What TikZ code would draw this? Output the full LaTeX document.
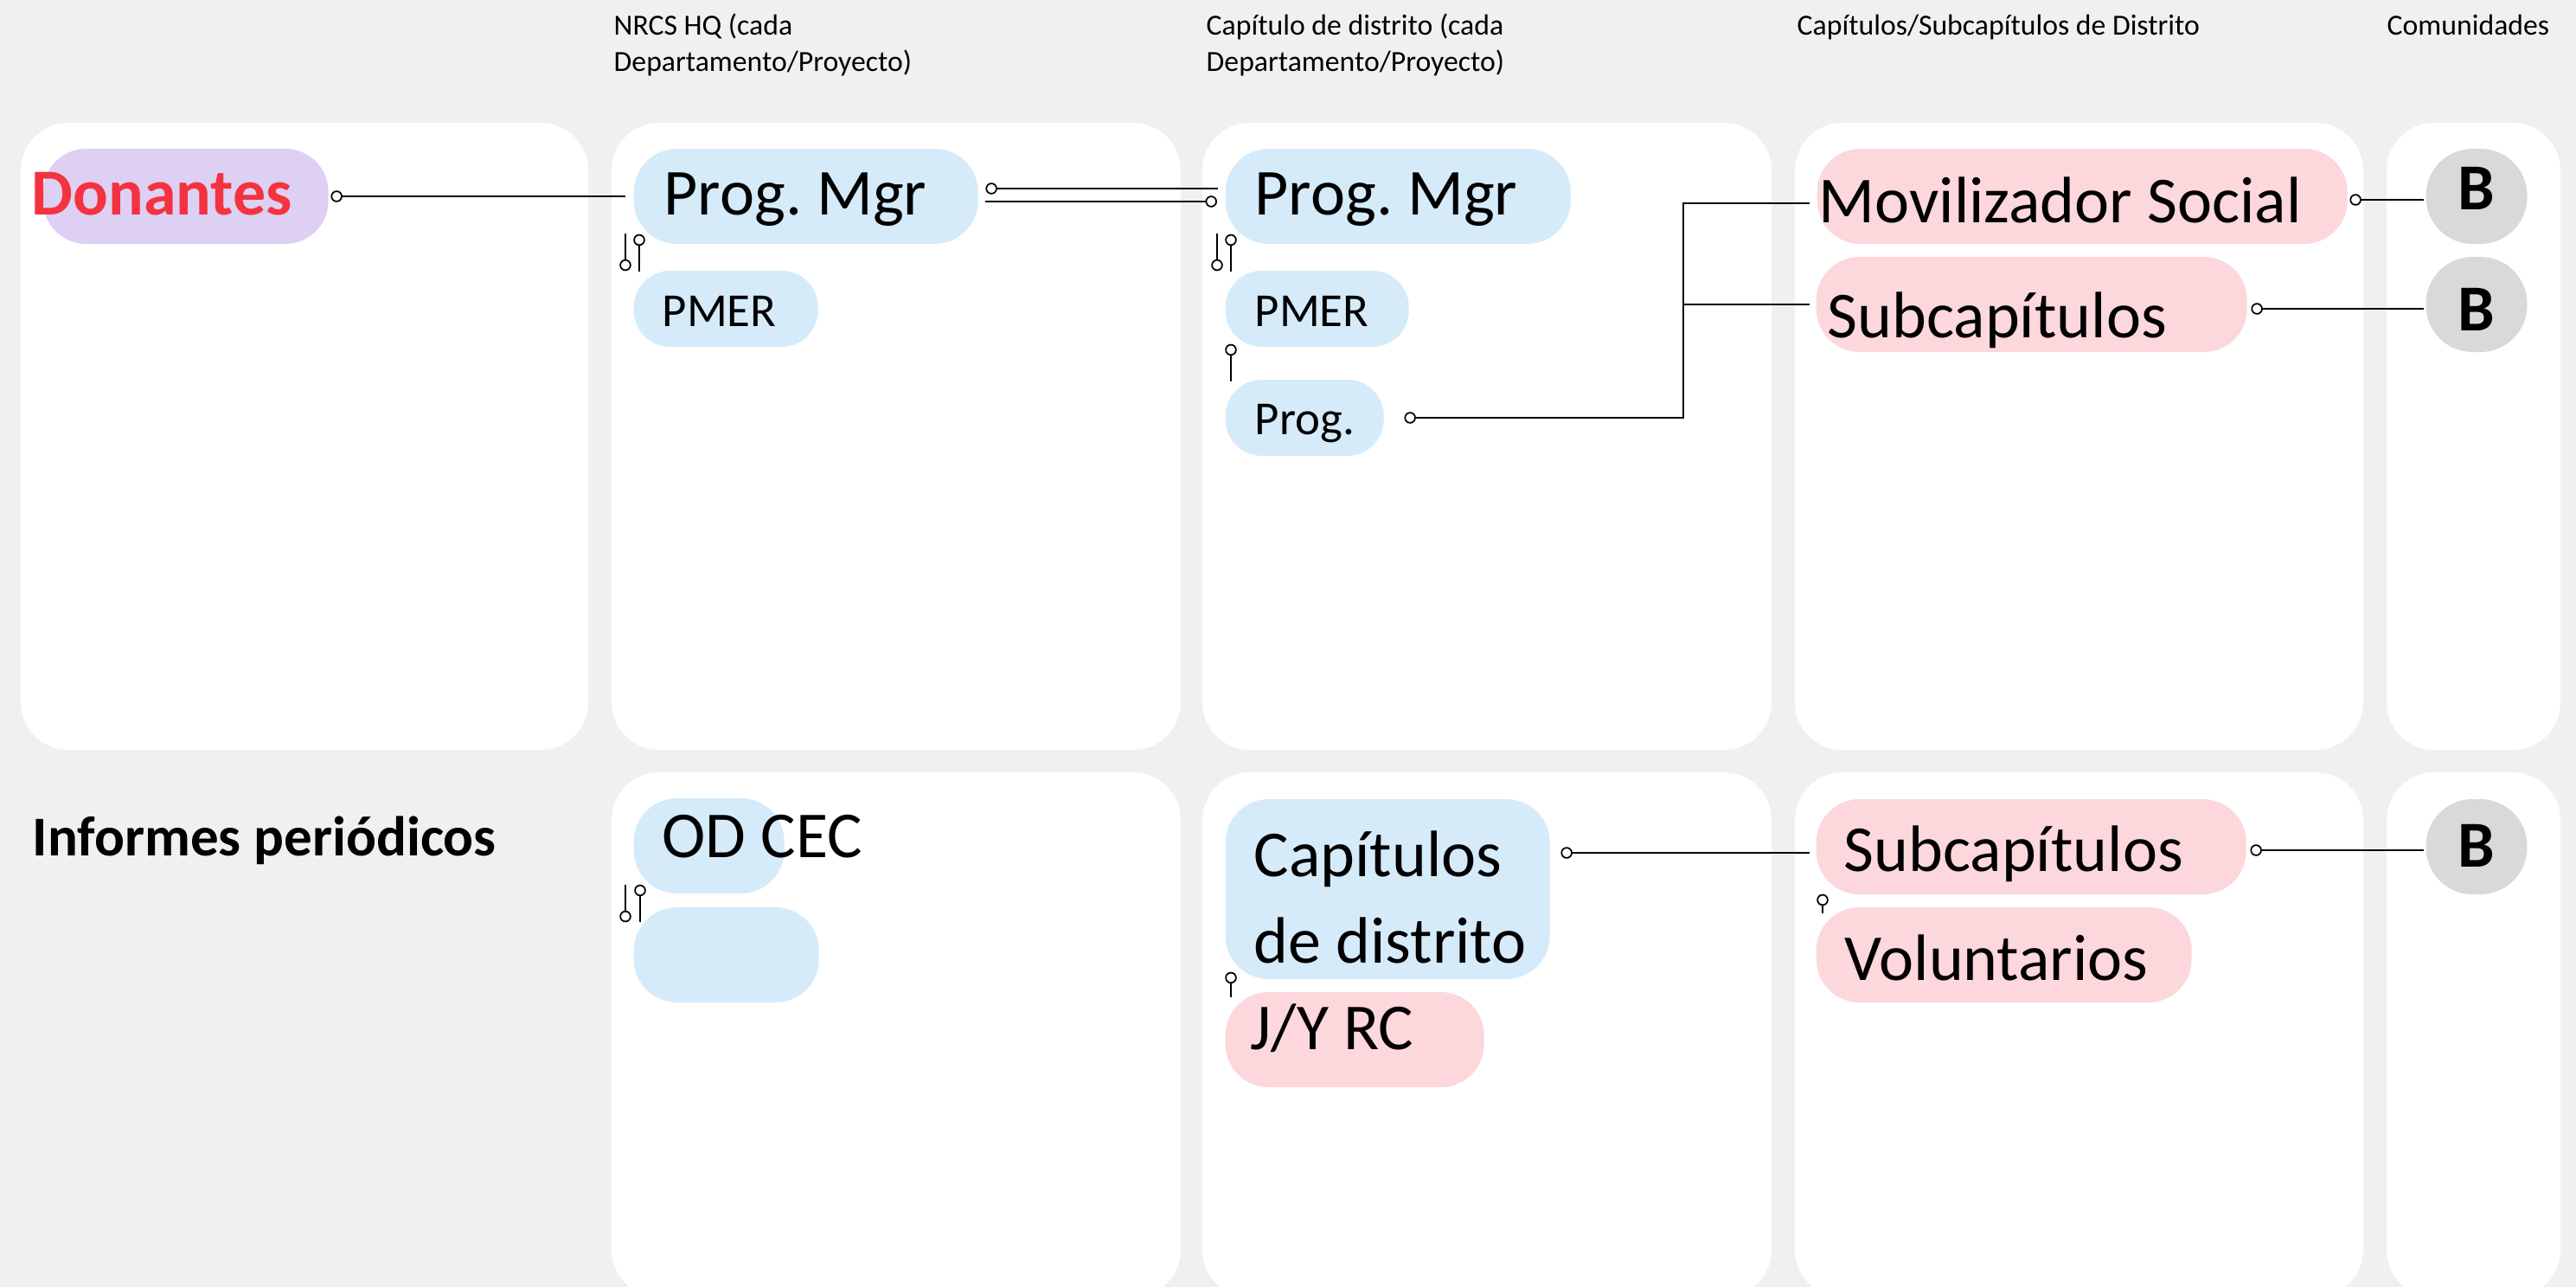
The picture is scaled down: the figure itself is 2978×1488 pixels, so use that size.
\documentclass[tikz,border=0pt]{standalone}
\usepackage{fontspec}
\setmainfont{Carlito}
\usepackage{tikz}
\usetikzlibrary{
    arrows.meta,
    positioning
}
\usepackage{xcolor}
\definecolor{bggray}{RGB}{240,240,240}
\definecolor{hqblue}{RGB}{213,235,250}
\definecolor{chappink}{RGB}{252,215,220}
\definecolor{donorlilac}{RGB}{221,208,243}
\definecolor{donorred}{RGB}{245,50,63}
\definecolor{commgray}{RGB}{217,217,217}

\newcommand{\bigtxt}{\fontsize{21.6}{28.5}\selectfont}
\newcommand{\smalltxt}{\fontsize{15.6}{19}\selectfont}
\newcommand{\hdrtxt}{\fontsize{9.6}{11.7}\selectfont}
\frenchspacing

\tikzset{
    panel/.style={fill=white, rounded corners=5.5mm},
    pill/.style={anchor=west, rounded corners=5mm, minimum height=11mm,
        inner ysep=0pt, align=flush left, font=\bigtxt},
    smallpill/.style={pill, rounded corners=4.2mm, minimum height=8.8mm, font=\smalltxt},
    txtlift/.style={text height=#1, text depth=0pt},
    hq/.style={fill=hqblue},
    chap/.style={fill=chappink},
    comm/.style={fill=commgray, rounded corners=5.4mm, minimum width=11.7mm,
        minimum height=11mm, inner sep=0pt, font=\bigtxt\bfseries},
    hdr/.style={anchor=base west, inner sep=0pt, align=flush left, font=\hdrtxt},
    link/.style={line width=0.6pt, black},
    dotfrom/.style={{Circle[open, length=1.35mm, width=1.35mm, line width=0.5pt]}-},
    dotto/.style={-{Circle[open, length=1.35mm, width=1.35mm, line width=0.5pt]}}
}

\begin{document}
\begin{tikzpicture}[x=0.1mm, y=-0.1mm]

% === Background and panels ===
\fill[bggray] (0,0) rectangle (2978,1488);
\useasboundingbox (0,0) rectangle (2978,1488);
\begin{scope}
    \clip (0,0) rectangle (2978,1488);
    \fill[panel] (24,142) rectangle (680,867);
    \foreach \xa/\xb in {707/1365, 1390/2048, 2075/2732, 2759/2960} {
        \fill[panel] (\xa,142) rectangle (\xb,867);
        \fill[panel] (\xa,893) rectangle (\xb,1500);
    }
\end{scope}

% === Column headers ===
\node[hdr] (hqhead) at (709,82) {NRCS HQ (cada\\Departamento/Proyecto)};
\node[hdr] (disthead) at (1394,82) {Capítulo de distrito (cada\\Departamento/Proyecto)};
\node[hdr] (subhead) at (2077,41) {Capítulos/Subcapítulos de Distrito};
\node[hdr] (commhead) at (2759,41) {Comunidades};

% === Row 1 ===
\node[pill, fill=donorlilac, minimum width=33mm, inner xsep=0pt] (donors) at (49,227) {};
\node[anchor=base west, inner sep=0pt, font=\bigtxt\bfseries, text=donorred] (donorslbl) at (36,248) {Donantes};

\node[pill, hq, inner xsep=3.5mm, text width=32.8mm, txtlift=4.2mm] (pm1) at (732,227) {Prog. Mgr};
\node[smallpill, hq, inner xsep=3.3mm, text width=14.7mm, txtlift=4mm] (pmer1) at (732,357) {PMER};

\node[pill, hq, inner xsep=3.4mm, text width=33.1mm, txtlift=4.2mm] (pm2) at (1416,227) {Prog. Mgr};
\node[smallpill, hq, inner xsep=3.4mm, text width=14.4mm, txtlift=4mm] (pmer2) at (1416,357) {PMER};
\node[smallpill, hq, inner xsep=3.4mm, text width=11.5mm, txtlift=3.8mm] (prog2) at (1416,483) {\mbox{Prog.}};

\node[pill, chap, inner xsep=0.2mm, text width=60.9mm, txtlift=6mm] (mob) at (2100,227) {Movilizador Social};
\node[pill, chap, inner xsep=1.3mm, text width=47.2mm, txtlift=7.6mm] (sub1) at (2099,352) {Subcapítulos};

\node[comm, txtlift=3mm] (b1) at (2863,227) {B};
\node[comm, txtlift=6mm] (b2) at (2863,352) {B};

% === Row 2 ===
\node[anchor=base west, inner sep=0pt, font=\fontsize{18.5}{22}\selectfont\bfseries] (reports) at (37,989) {Informes periódicos};

\node[pill, hq, inner xsep=3.3mm, text width=10.8mm, txtlift=2.6mm] (odcec) at (732,978) {\mbox{OD CEC}};
\node[pill, hq, inner xsep=0pt, minimum width=21.4mm] (blank) at (732,1104) {};

\node[pill, hq, inner xsep=3.3mm, text width=30.9mm, minimum height=20.8mm,
    text height=5mm, text depth=8mm] (cap2) at (1416,1028) {Capítulos\\\mbox{de distrito}};
\node[pill, chap, inner xsep=2.9mm, text width=24.1mm, txtlift=2.2mm] (jyrc) at (1416,1202) {J/Y RC};

\node[pill, chap, inner xsep=3.2mm, text width=43.3mm, txtlift=5.6mm] (sub2) at (2099,979) {Subcapítulos};
\node[pill, chap, inner xsep=3.3mm, text width=36.8mm, txtlift=5.8mm] (vol) at (2099,1104) {Voluntarios};

\node[comm, txtlift=4.6mm] (b3) at (2863,979) {B};

% === Connectors ===
\draw[link, dotfrom, shorten >=0.9mm] ([xshift=0.2mm]donors.east) -- (pm1.west);

\draw[link, dotfrom] ([xshift=0.8mm, yshift=0.9mm]pm1.east) -- ([xshift=-0.8mm, yshift=0.9mm]pm2.west);
\draw[link, dotto] ([xshift=0.8mm, yshift=-0.6mm]pm1.east) -- ([xshift=-0.9mm, yshift=-0.6mm]pm2.west);

\draw[link, dotto] ([xshift=-0.9mm, yshift=1.3mm]pm1.south west) -- ([xshift=-0.9mm, yshift=-0.1mm]pmer1.north west);
\draw[link, dotfrom] ([xshift=0.7mm, yshift=1.2mm]pm1.south west) -- ([xshift=0.7mm, yshift=-0.2mm]pmer1.north west);

\draw[link, dotto] ([xshift=-0.9mm, yshift=1.3mm]pm2.south west) -- ([xshift=-0.9mm, yshift=-0.1mm]pmer2.north west);
\draw[link, dotfrom] ([xshift=0.7mm, yshift=1.2mm]pm2.south west) -- ([xshift=0.7mm, yshift=-0.2mm]pmer2.north west);
\draw[link, dotfrom] ([xshift=0.7mm, yshift=0.4mm]pmer2.south west) -- ([xshift=0.7mm, yshift=-0.3mm]prog2.north west);

\coordinate (bus) at (1946,483);
\draw[link, dotfrom] ([xshift=2.3mm]prog2.east) -- (bus) |- ([xshift=-0.8mm, yshift=-0.8mm]mob.west);
\draw[link] (bus |- sub1.west) -- ([xshift=-0.7mm]sub1.west);

\draw[link, dotfrom] ([xshift=0.2mm, yshift=-0.4mm]mob.east) -- ([xshift=-0.2mm, yshift=-0.4mm]b1.west);
\draw[link, dotfrom] ([xshift=0.4mm, yshift=-0.5mm]sub1.east) -- ([xshift=-0.2mm, yshift=-0.5mm]b2.west);

\draw[link, dotto] ([xshift=-0.9mm, yshift=1.1mm]odcec.south west) -- ([xshift=-0.9mm, yshift=-1.8mm]blank.north west);
\draw[link, dotfrom] ([xshift=0.8mm, yshift=1.1mm]odcec.south west) -- ([xshift=0.8mm, yshift=-1.8mm]blank.north west);

\draw[link, dotfrom] ([xshift=1.2mm, yshift=-0.7mm]cap2.east |- sub2.west) -- ([xshift=-0.7mm, yshift=-0.7mm]sub2.west);
\draw[link, dotfrom] ([xshift=0.7mm, yshift=0.9mm]cap2.south west) -- ([xshift=0.7mm, yshift=-0.7mm]jyrc.north west);

\draw[link, dotfrom] ([xshift=0.4mm, yshift=-0.4mm]sub2.east) -- ([xshift=-0.2mm, yshift=-0.4mm]b3.west);
\draw[link, dotfrom] ([xshift=0.8mm, yshift=0.1mm]sub2.south west) -- ([xshift=0.8mm, yshift=-0.8mm]vol.north west);

\end{tikzpicture}
\end{document}
